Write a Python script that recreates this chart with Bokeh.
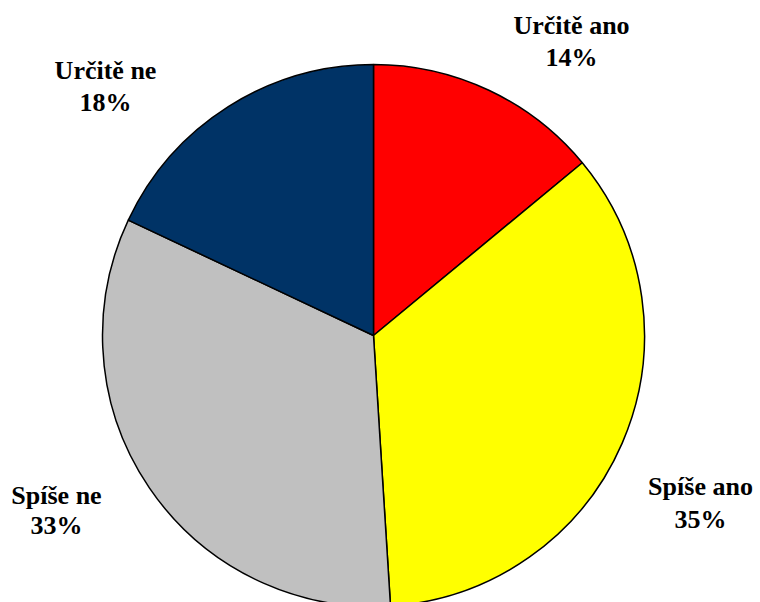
import math
from bokeh.plotting import figure
from bokeh.models import Range1d, ColumnDataSource
from bokeh.core.properties import value
from bokeh.embed import file_html
from bokeh.resources import INLINE

# ---- data ----
categories = ["Určitě ano", "Spíše ano", "Spíše ne", "Určitě ne"]
percents = [14, 35, 33, 18]
colors = ["#FF0000", "#FFFF00", "#C0C0C0", "#003366"]

# ---- layout (figure pixel space, y measured from bottom) ----
W, H = 760, 602
cx, cy, r = 373, 267, 271
# label anchor: (x center, baseline of name line, baseline of percent line)
label_x = [571, 700, 56, 105]
label_name_y = [577, 116, 107, 532]
label_pct_y = [545, 83, 77, 500]

total = float(sum(percents))
starts, ends = [], []
cum = 0.0
for v in percents:
    starts.append(math.pi / 2 - 2 * math.pi * cum / total)
    cum += v
    ends.append(math.pi / 2 - 2 * math.pi * cum / total)

src = ColumnDataSource(dict(
    x=[cx] * len(percents), y=[cy] * len(percents),
    start=starts, end=ends, color=colors,
))

p = figure(width=W, height=H, output_backend="svg", toolbar_location=None,
           x_range=Range1d(0, W), y_range=Range1d(0, H), min_border=0)
p.axis.visible = False
p.grid.visible = False
p.outline_line_color = None
p.background_fill_color = "white"
p.border_fill_color = "white"

p.wedge(x="x", y="y", radius=r, start_angle="start", end_angle="end",
        direction="clock", fill_color="color", line_color="black",
        line_width=1.5, source=src)

tsrc = ColumnDataSource(dict(
    x=label_x, yn=label_name_y, yp=label_pct_y,
    name=categories, pct=[f"{v}%" for v in percents],
))
common = dict(text_font=value("'Liberation Serif', 'Times New Roman', serif"),
              text_font_style="bold",
              text_font_size="26px", text_color="black", text_align="center",
              text_baseline="alphabetic", source=tsrc)
p.text(x="x", y="yn", text="name", **common)
p.text(x="x", y="yp", text="pct", **common)

open("out.html", "w").write(file_html(p, INLINE))
